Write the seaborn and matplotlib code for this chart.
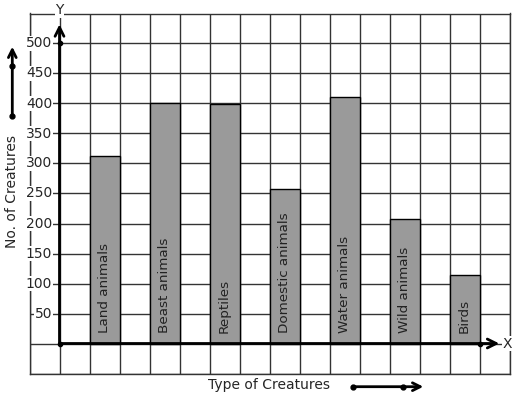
import numpy as np
import pandas as pd
import matplotlib
matplotlib.use("Agg")
import matplotlib.pyplot as plt
import seaborn as sns

# Data
categories = ["Land animals", "Beast animals", "Reptiles", "Domestic animals",
              "Water animals", "Wild animals", "Birds"]
counts = [312, 400, 399, 258, 410, 207, 115]
y_ticks = [50, 100, 150, 200, 250, 300, 350, 400, 450, 500]

df = pd.DataFrame({"Type": categories, "Count": counts})

sns.set_style("white")
plt.rcParams["font.family"] = ["DejaVu Sans"]

W, H = 517, 399
fig = plt.figure(figsize=(W / 100, H / 100), dpi=100)
ax = fig.add_axes([29.5 / W, (H - 373.5) / H, 480 / W, 360 / H])

sns.barplot(data=df, x="Type", y="Count", ax=ax, color="#9a9a9a",
            saturation=1, width=0.5, edgecolor="black", linewidth=1, zorder=3)

# grid: each cell = half a category step horizontally, 50 units vertically
x0, x1 = -1.25, 6.75
ax.set_xlim(x0, x1)
ax.set_ylim(-50, 550)
ax.set_xticks(np.arange(x0, x1 + 0.01, 0.5))
ax.set_yticks(np.arange(-50, 551, 50))
ax.grid(True, color="#333333", linewidth=1)
ax.tick_params(length=0, labelbottom=False, labelleft=False)
ax.set_xlabel("")
ax.set_ylabel("")
for s in ax.spines.values():
    s.set_color("#333333")
    s.set_linewidth(1)

yax = -0.75
# axes with arrows
ax.annotate("", xy=(yax, 532), xytext=(yax, 0),
            arrowprops=dict(arrowstyle="->", lw=2, color="black",
                            shrinkA=0, shrinkB=0, mutation_scale=16), zorder=5)
ax.annotate("", xy=(6.58, 0), xytext=(yax, 0),
            arrowprops=dict(arrowstyle="->", lw=2, color="black",
                            shrinkA=0, shrinkB=0, mutation_scale=16), zorder=5)
ax.plot([yax, yax, 6.25], [0, 500, 0], "o", color="black", ms=3, zorder=6,
        clip_on=False)

ax.text(yax, 556, "Y", ha="center", va="center", fontsize=10, clip_on=False,
        bbox=dict(facecolor="white", edgecolor="none", pad=0.5), zorder=7)
ax.text(6.72, 0, "X", ha="center", va="center", fontsize=10, clip_on=False,
        bbox=dict(facecolor="white", edgecolor="none", pad=0.5), zorder=7)

for v in y_ticks:
    ax.text(-0.87, v, str(v), ha="right", va="center", fontsize=10,
            bbox=dict(facecolor="white", edgecolor="none", pad=0.3), zorder=4)

for i, name in enumerate(categories):
    ax.text(i, 17, name, rotation=90, ha="center", va="bottom",
            fontsize=9.7, color="#222222", zorder=4)

# outside labels with their little arrows
fig.text(12.3 / W, 1 - 192 / H, "No. of Creatures", rotation=90,
         ha="center", va="center", fontsize=10)
fig.text(269.5 / W, 1 - 385 / H, "Type of Creatures", ha="center",
         va="center", fontsize=10)

fig.patches.append(matplotlib.patches.FancyArrowPatch(
    (12.3 / W, 1 - 116.3 / H), (12.3 / W, 1 - 46.7 / H),
    transform=fig.transFigure, arrowstyle="->", lw=2, color="black",
    mutation_scale=14, shrinkA=0, shrinkB=0))
fig.patches.append(matplotlib.patches.FancyArrowPatch(
    (353.3 / W, 1 - 386.7 / H), (423.3 / W, 1 - 386.7 / H),
    transform=fig.transFigure, arrowstyle="->", lw=2, color="black",
    mutation_scale=14, shrinkA=0, shrinkB=0))
fig.lines.append(matplotlib.lines.Line2D(
    [12.3 / W, 12.3 / W, 353.3 / W, 403.3 / W],
    [1 - 116.3 / H, 1 - 66 / H, 1 - 386.7 / H, 1 - 386.7 / H],
    transform=fig.transFigure, linestyle="none", marker="o",
    ms=3.5, color="black"))

fig.savefig("out.png", dpi=100)
